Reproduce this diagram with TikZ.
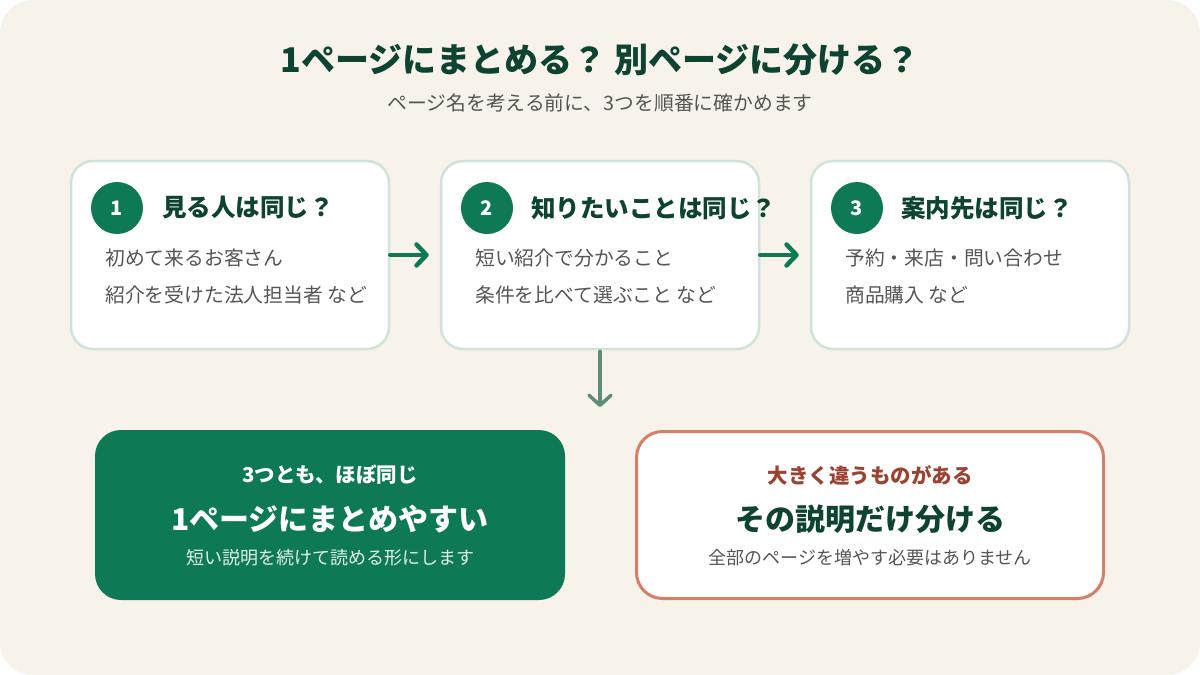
\documentclass[tikz,border=0pt]{standalone}
\usepackage{fontspec}
\setmainfont{Noto Sans CJK JP}
\usetikzlibrary{arrows.meta}
\definecolor{bgcream}{HTML}{F7F3EB}
\definecolor{mint}{HTML}{D0E3D8}
\definecolor{leaf}{HTML}{0E7A55}
\definecolor{pine}{HTML}{0D4330}
\definecolor{ink}{HTML}{555555}
\definecolor{sage}{HTML}{5F8C77}
\definecolor{clay}{HTML}{D77D68}
\definecolor{rust}{HTML}{9B4332}
\tikzset{
  stepcard/.style={draw=mint,line width=2.5pt,fill=white,rounded corners=22pt,
    minimum width=318pt,minimum height=188pt},
  badge/.style={circle,fill=leaf,minimum size=52pt,inner sep=0pt,text=white,
    font=\fontsize{20}{22}\selectfont\bfseries},
  cardhead/.style={anchor=west,inner sep=0pt,text=pine,font=\fontsize{24.5}{28}\selectfont\bfseries},
  cardline/.style={anchor=west,inner sep=0pt,text=ink,font=\fontsize{19.8}{22}\selectfont},
  flow/.style={-{Straight Barb[length=10pt,width=21pt,round]},line width=4.5pt,leaf,line cap=round},
}
\begin{document}
\begin{tikzpicture}[x=1pt,y=-1pt]
% background
\fill[white] (0,0) rectangle (1200,675);
\fill[bgcream,rounded corners=33pt] (0,0) rectangle (1200,675);
\useasboundingbox (0,0) rectangle (1200,675);

% title
\node[text=pine,font=\fontsize{34}{38}\selectfont\bfseries] (title) at (600,60) {1ページにまとめる？ 別ページに分ける？};
\node[text=ink,font=\fontsize{19.8}{22}\selectfont] (subtitle) at (600,103) {ページ名を考える前に、3つを順番に確かめます};

% three checks
\node[stepcard] (c1) at (230,255) {};
\node[badge] (n1) at (117,208) {1};
\node[cardhead] (h1) at (162,208) {見る人は同じ？};
\node[cardline] (a1) at (105,258) {初めて来るお客さん};
\node[cardline] (b1) at (105,295) {紹介を受けた法人担当者 など};

\node[stepcard] (c2) at (600,255) {};
\node[badge] (n2) at (487,208) {2};
\node[cardhead] (h2) at (531,208) {知りたいことは同じ？};
\node[cardline] (a2) at (475,258) {短い紹介で分かること};
\node[cardline] (b2) at (475,295) {条件を比べて選ぶこと など};

\node[stepcard] (c3) at (970,255) {};
\node[badge] (n3) at (857,208) {3};
\node[cardhead] (h3) at (901,208) {案内先は同じ？};
\node[cardline] (a3) at (845,258) {予約・来店・問い合わせ};
\node[cardline] (b3) at (845,295) {商品購入 など};

\draw[flow,shorten <=0pt,shorten >=11pt] (c1.east) -- (c2.west);
\draw[flow,shorten <=0pt,shorten >=11pt] (c2.east) -- (c3.west);

% down to the two outcomes
\coordinate (split) at (600,407);
\draw[-{Straight Barb[length=10pt,width=22pt,round]},line width=3.5pt,sage,line cap=round,shorten <=1pt] (c2.south) -- (split);

% outcome: same
\node[fill=leaf,rounded corners=26pt,minimum width=470pt,minimum height=170pt] (same) at (330,515) {};
\node[text=white,font=\fontsize{20.5}{24}\selectfont\bfseries] (s1) at (330,475) {3つとも、ほぼ同じ};
\node[text=white,font=\fontsize{30}{34}\selectfont\bfseries] (s2) at (330,519) {1ページにまとめやすい};
\node[text=white!88!leaf,font=\fontsize{18}{22}\selectfont] (s3) at (330,558) {短い説明を続けて読める形にします};

% outcome: different
\node[draw=clay,line width=3pt,fill=white,rounded corners=26pt,minimum width=467pt,minimum height=167pt] (diff) at (870,515) {};
\node[text=rust,font=\fontsize{20.5}{24}\selectfont\bfseries] (d1) at (870,475) {大きく違うものがある};
\node[text=pine,font=\fontsize{30}{34}\selectfont\bfseries] (d2) at (870,519) {その説明だけ分ける};
\node[text=ink,font=\fontsize{18}{22}\selectfont] (d3) at (870,558) {全部のページを増やす必要はありません};
\end{tikzpicture}
\end{document}
